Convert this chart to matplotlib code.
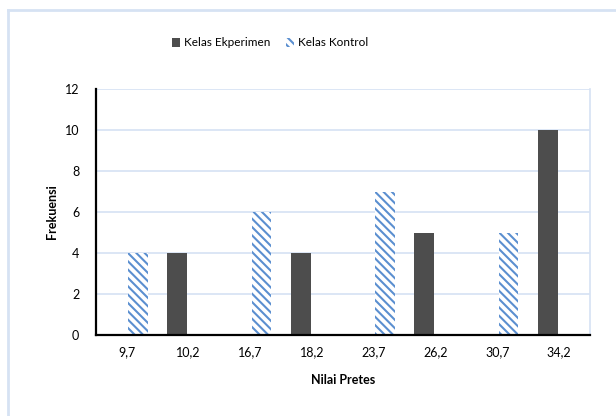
import matplotlib.pyplot as plt
import numpy as np
from matplotlib.lines import Line2D
from matplotlib.patches import Patch

categories = ['9,7', '10,2', '16,7', '18,2', '23,7', '26,2', '30,7', '34,2']
kelas_ekperimen = [0, 4, 0, 4, 0, 5, 0, 10]
kelas_kontrol = [4, 0, 6, 0, 7, 0, 5, 0]

plt.rcParams['font.family'] = ['Lato', 'DejaVu Sans']
plt.rcParams['hatch.linewidth'] = 1.5
plt.rcParams['hatch.color'] = '#5b8fd0'

dark = '#4d4d4d'
blue = '#5b8fd0'
grid_col = '#d6e2f3'
hatch = '\\\\\\\\'

fig = plt.figure(figsize=(6.16, 4.16), dpi=100)
ax = fig.add_axes([96 / 616, 1 - 335 / 416, (590 - 96) / 616, (335 - 89) / 416])

x = np.arange(len(categories))
w = 0.32
ax.bar(x - 0.185, kelas_ekperimen, w, color=dark, linewidth=0, zorder=3)
ax.bar(x + 0.18, kelas_kontrol, w, color='white', edgecolor=blue,
       hatch=hatch, linewidth=0, zorder=3)

ax.set_xlim(-0.5, len(categories) - 0.5)
ax.set_ylim(0, 12)
ax.set_yticks(range(0, 13, 2))
ax.set_xticks(x)
ax.set_xticklabels(categories)
ax.tick_params(axis='both', length=0, labelsize=9, colors='black')
ax.tick_params(axis='y', pad=12)
ax.tick_params(axis='x', pad=8)
ax.grid(axis='y', color=grid_col, linewidth=1.2, zorder=0)

for s in ['left', 'bottom']:
    ax.spines[s].set_linewidth(1.6)
    ax.spines[s].set_color('black')
    ax.spines[s].set_zorder(4)
ax.spines['top'].set_visible(False)
ax.spines['right'].set_color(grid_col)
ax.spines['right'].set_linewidth(1.2)

fig.text(52 / 616, 1 - 212 / 416, 'Frekuensi', rotation=90, fontsize=9,
         fontweight='bold', ha='center', va='center')
fig.text(343 / 616, 1 - 380 / 416, 'Nilai Pretes', fontsize=9,
         fontweight='bold', ha='center', va='center')

handles = [Patch(facecolor=dark, linewidth=0),
           Patch(facecolor='white', edgecolor=blue, hatch=hatch, linewidth=0)]
fig.legend(handles, ['Kelas Ekperimen', 'Kelas Kontrol'], loc='center',
           bbox_to_anchor=(270 / 616, 1 - 43 / 416), ncol=2, frameon=False,
           fontsize=8.5, handlelength=0.7, handleheight=0.7, handletextpad=0.3,
           columnspacing=1.3)

# chart area border (left and top only)
fig.add_artist(Line2D([8 / 616, 8 / 616], [0, 1 - 10 / 416], color=grid_col,
                      linewidth=2, transform=fig.transFigure))
fig.add_artist(Line2D([8 / 616, 1], [1 - 10 / 416, 1 - 10 / 416], color=grid_col,
                      linewidth=2, transform=fig.transFigure))

plt.savefig('out.png', dpi=100)
